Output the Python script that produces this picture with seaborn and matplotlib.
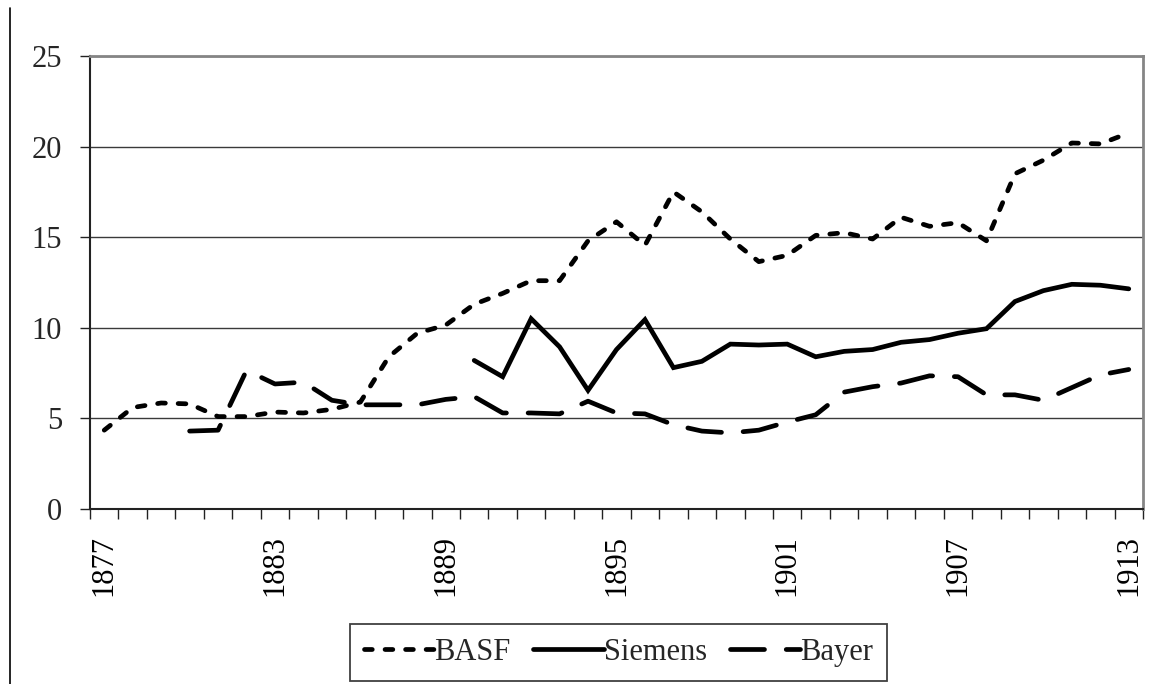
import numpy as np
import pandas as pd
import matplotlib
matplotlib.use("Agg")
import matplotlib.pyplot as plt
from matplotlib.lines import Line2D
from matplotlib.ticker import FixedLocator
import seaborn as sns

# ---------------- data ----------------
years_basf = list(range(1877, 1914))
basf = [4.35, 5.6, 5.85, 5.8, 5.1, 5.1, 5.35, 5.3, 5.5, 5.9,
        8.4, 9.7, 10.15, 11.3, 11.9, 12.6, 12.6, 14.8, 15.85, 14.55,
        17.5, 16.4, 14.9, 13.65, 14.0, 15.1, 15.25, 14.9, 16.1, 15.6,
        15.8, 14.8, 18.5, 19.25, 20.2, 20.15, 20.75]

years_siemens = list(range(1890, 1914))
siemens = [8.2, 7.3, 10.5, 8.95, 6.55, 8.8, 10.45, 7.8, 8.15, 9.1,
           9.05, 9.1, 8.4, 8.7, 8.8, 9.2, 9.35, 9.7, 9.95, 11.45,
           12.05, 12.4, 12.35, 12.15]

years_bayer = list(range(1880, 1914))
bayer = [4.3, 4.35, 7.65, 6.9, 7.0, 6.0, 5.75, 5.75, 5.75, 6.05,
         6.2, 5.3, 5.3, 5.25, 5.95, 5.3, 5.25, 4.65, 4.3, 4.2,
         4.35, 4.8, 5.2, 6.45, 6.75, 6.95, 7.35, 7.3, 6.3, 6.3,
         6.0, 6.7, 7.4, 7.7]

series_names = ["BASF", "Siemens", "Bayer"]
year_labels = [1877, 1883, 1889, 1895, 1901, 1907, 1913]
y_ticks = [0, 5, 10, 15, 20, 25]

# ---------------- style ----------------
sns.set_theme(style="white")
plt.rcParams["font.family"] = ["Liberation Serif", "DejaVu Serif"]

W, H = 1160, 684
fig = plt.figure(figsize=(W / 100, H / 100), dpi=100)
ax = fig.add_axes([90 / W, 1 - 509 / H, (1143 - 90) / W, (509 - 56) / H])

lw = 3.4
sns.lineplot(x=years_basf, y=basf, ax=ax, color="black", lw=lw,
             linestyle=(0, (1.65, 2.7)), dash_capstyle="round",
             label=series_names[0], zorder=3)
sns.lineplot(x=years_siemens, y=siemens, ax=ax, color="black", lw=lw,
             linestyle="-", solid_capstyle="round", solid_joinstyle="miter",
             label=series_names[1], zorder=3)
sns.lineplot(x=years_bayer, y=bayer, ax=ax, color="black", lw=lw,
             linestyle=(0, (7.2, 4.6)), dash_capstyle="round",
             label=series_names[2], zorder=3)

# axes limits / ticks
ax.set_xlim(1876.5, 1913.5)
ax.set_ylim(0, 25)
ax.set_xlabel("")
ax.set_ylabel("")

ax.xaxis.set_major_locator(FixedLocator(year_labels))
ax.set_xticklabels([str(y) for y in year_labels], rotation=90)
ax.xaxis.set_minor_locator(FixedLocator(np.arange(1876.5, 1914.0, 1.0)))
ax.tick_params(axis="x", which="major", length=0, pad=19, labelsize=22,
               colors="black")
ax.tick_params(axis="x", which="minor", length=7, width=1.0,
               direction="out", color="#222222", bottom=True)

ax.yaxis.set_major_locator(FixedLocator(y_ticks))
ax.set_yticklabels([str(v) for v in y_ticks])
ax.tick_params(axis="y", which="major", length=7, width=1.0,
               direction="out", pad=13, labelsize=22, color="#222222",
               left=True)

# grid
ax.yaxis.grid(True, color="#3a3a3a", lw=1.0)
ax.xaxis.grid(False)
ax.set_axisbelow(True)

# spines
for s in ["left", "bottom"]:
    ax.spines[s].set_color("#222222")
    ax.spines[s].set_linewidth(1.5)
for s in ["top", "right"]:
    ax.spines[s].set_visible(True)
    ax.spines[s].set_color("#858585")
    ax.spines[s].set_linewidth(2.0)

# legend below
handles, labels = ax.get_legend_handles_labels()
ax.get_legend().remove()
leg = fig.legend(handles, labels, loc="center",
                 bbox_to_anchor=(618.5 / W, 1 - 652.5 / H),
                 ncol=3, frameon=True, fancybox=False, framealpha=1,
                 edgecolor="#404040", fontsize=22, handlelength=2.3,
                 handletextpad=0.0, columnspacing=0.75, borderpad=0.45)
leg.get_frame().set_linewidth(1.3)

# left border line of the figure
fig.add_artist(Line2D([10 / W, 10 / W], [0, 1 - 8 / H],
                      transform=fig.transFigure, color="black", lw=1.2))

fig.savefig("out.png", dpi=100, facecolor="white")
